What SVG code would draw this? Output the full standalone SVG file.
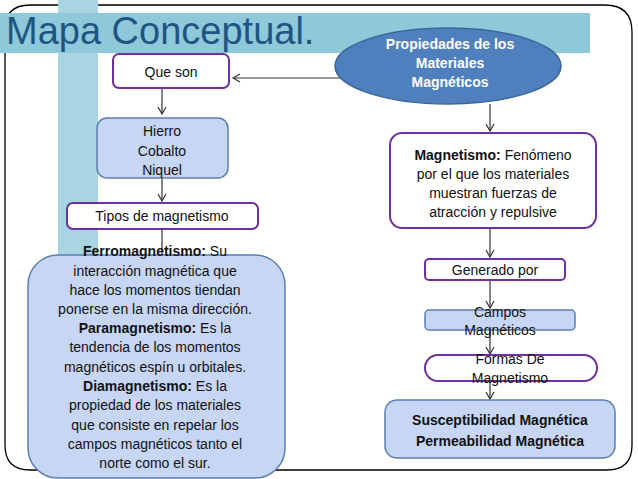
<svg xmlns="http://www.w3.org/2000/svg" width="638" height="479" viewBox="0 0 638 479">
<defs>
<marker id="ah" markerWidth="10" markerHeight="10" refX="8" refY="5" orient="auto" markerUnits="userSpaceOnUse"><path d="M1,1 L8,5 L1,9" fill="none" stroke="#333" stroke-width="1.2"/></marker>
</defs>
<style>
text{font-family:"Liberation Sans",Arial,sans-serif;font-size:14px;fill:#111;text-anchor:middle}
.w{fill:#fff;stroke:#7030a0;stroke-width:2}
.b{fill:#c6d6f4;stroke:#5b7fb3;stroke-width:1.5}
.c line,.c path{stroke:#333;stroke-width:1.2;fill:none}
b,.bd{font-weight:bold}
</style>
<rect width="638" height="479" fill="#fff"/>
<path d="M30,5 H605 Q632,5 632,32 V445 Q632,470 607,470 H30 Q5,470 5,445 V30 Q5,5 30,5 Z" fill="none" stroke="#000" stroke-width="1.3"/>
<rect x="58" y="0" width="40" height="260" fill="#a9d4e2"/>
<rect x="0" y="13" width="590" height="40" fill="#8ec8d9"/>
<text x="6" y="44" style="font-size:38px;fill:#1f5582;text-anchor:start">Mapa Conceptual.</text>
<g class="c">
<path d="M345,78 H233" marker-end="url(#ah)"/>
<line x1="162" y1="88" x2="162" y2="114" marker-end="url(#ah)"/>
<line x1="162" y1="178" x2="162" y2="201" marker-end="url(#ah)"/>
<line x1="162" y1="229" x2="162" y2="258"/>
<line x1="490" y1="104" x2="490" y2="131" marker-end="url(#ah)"/>
<line x1="490" y1="228" x2="490" y2="257" marker-end="url(#ah)"/>
<line x1="490" y1="280" x2="490" y2="308" marker-end="url(#ah)"/>
<line x1="490" y1="330" x2="490" y2="354" marker-end="url(#ah)"/>
<line x1="490" y1="381" x2="490" y2="399" marker-end="url(#ah)"/>
</g>
<g id="propiedades"><ellipse cx="448" cy="66" rx="113" ry="38" fill="#4f80bd" stroke="#3b679d" stroke-width="1.5"/>
<text x="450" y="49" class="bd" style="fill:#fff">Propiedades de los</text>
<text x="450" y="68" class="bd" style="fill:#fff">Materiales</text>
<text x="450" y="87" class="bd" style="fill:#fff">Magnéticos</text></g>
<g id="queson"><rect class="w" x="113" y="54" width="116" height="34" rx="6"/><text x="171" y="77">Que son</text></g>
<g id="hierro"><rect class="b" x="97" y="118" width="131" height="60" rx="10"/>
<text x="162" y="136">Hierro</text><text x="162" y="156">Cobalto</text><text x="162" y="175">Niquel</text></g>
<g id="tipos"><rect class="w" x="67" y="203" width="191" height="26" rx="6"/><text x="162" y="221">Tipos de magnetismo</text></g>
<g id="tiposdesc"><rect class="b" x="28" y="255" width="257" height="223" rx="30"/>
<text x="155" y="256"><tspan class="bd">Ferromagnetismo:</tspan> Su</text>
<text x="155" y="276">interacción magnética que</text>
<text x="155" y="295">hace los momentos tiendan</text>
<text x="155" y="314">ponerse en la misma dirección.</text>
<text x="155" y="333"><tspan class="bd">Paramagnetismo:</tspan> Es la</text>
<text x="155" y="352">tendencia de los momentos</text>
<text x="155" y="372">magnéticos espín u orbitales.</text>
<text x="155" y="391"><tspan class="bd">Diamagnetismo:</tspan> Es la</text>
<text x="155" y="410">propiedad de los materiales</text>
<text x="155" y="430">que consiste en repelar los</text>
<text x="155" y="449">campos magnéticos tanto el</text>
<text x="155" y="468">norte como el sur.</text></g>
<g id="magnetismo"><rect class="w" x="390" y="133" width="206" height="95" rx="12"/>
<text x="493" y="160"><tspan class="bd">Magnetismo:</tspan> Fenómeno</text>
<text x="493" y="179">por el que los materiales</text>
<text x="493" y="198">muestran fuerzas de</text>
<text x="493" y="217">atracción y repulsive</text></g>
<g id="generado"><rect class="w" x="425" y="259" width="140" height="21" rx="4"/><text x="495" y="275">Generado por</text></g>
<g id="campos"><rect class="b" x="425" y="310" width="150" height="20" rx="4"/>
<text x="500" y="317">Campos</text><text x="500" y="335">Magnéticos</text></g>
<g id="formas"><rect class="w" x="425" y="355" width="172" height="26" rx="13"/>
<text x="510" y="364">Formas De</text><text x="510" y="383">Magnetismo</text></g>
<g id="suscept"><rect class="b" x="385" y="400" width="230" height="58" rx="12"/>
<text x="500" y="425" class="bd">Susceptibilidad Magnética</text>
<text x="500" y="446" class="bd">Permeabilidad Magnética</text></g>
</svg>
